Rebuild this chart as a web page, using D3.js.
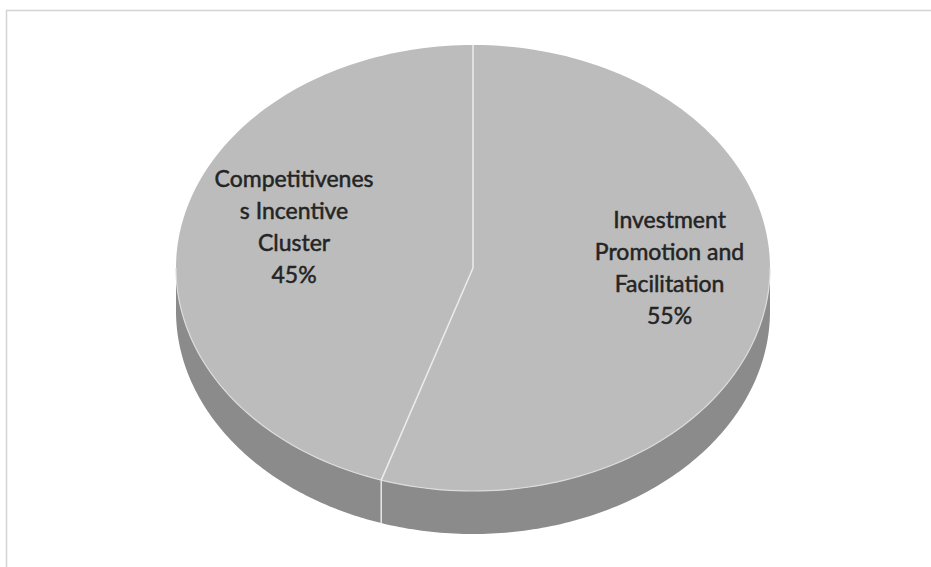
<!DOCTYPE html>
<html>
<head>
<meta charset="utf-8">
<script src="https://cdn.jsdelivr.net/npm/d3@7"></script>
<style>
  html, body { margin: 0; padding: 0; background: #fff; }
  svg { display: block; }
</style>
</head>
<body>
<svg id="chart" width="931" height="567"></svg>
<script>
// Budget split between the two programme components
const categories = ["Investment Promotion and Facilitation", "Competitiveness Incentive Cluster"];
const values = [55, 45];
// Wrapped label text, one array of lines per category
const labelLines = [
  ["Investment", "Promotion and", "Facilitation"],
  ["Competitivenes", "s Incentive", "Cluster"]
];

const W = 931, H = 567;
const svg = d3.select("#chart");

// Chart frame (left and top edges)
svg.append("path")
  .attr("d", `M6.5,${H} V10.5 H${W}`)
  .attr("fill", "none")
  .attr("stroke", "#d4d4d4")
  .attr("stroke-width", 1.5);

// Tilted pie geometry
const cx = 473, cy = 268, rx = 297, ry = 223, depth = 43;
const topFill = "#bcbcbc", sideFill = "#8b8b8b";

const pie = d3.pie().sort(null).value(d => d.value);
const arcs = pie(categories.map((c, i) => ({ name: c, value: values[i], lines: labelLines[i] })));

// Point on the projected ellipse for a pie angle (clockwise from 12 o'clock)
const pt = (a, r = 1, dy = 0) => [cx + r * rx * Math.sin(a), cy - r * ry * Math.cos(a) + dy];
const line = d3.line();
const sample = (a0, a1, n = 120) => d3.range(n + 1).map(i => a0 + (a1 - a0) * i / n);

// Side wall: only the front half (angles between 90° and 270°) is visible
const sideG = svg.append("g");
arcs.forEach(d => {
  const a0 = Math.max(d.startAngle, Math.PI / 2);
  const a1 = Math.min(d.endAngle, 3 * Math.PI / 2);
  if (a1 <= a0) return;
  const angs = sample(a0, a1);
  const pts = angs.map(a => pt(a)).concat(angs.slice().reverse().map(a => pt(a, 1, depth)));
  sideG.append("path")
    .attr("d", line(pts) + "Z")
    .attr("fill", sideFill);
});
// Slice boundaries that fall on the front wall
arcs.forEach(d => {
  const a = d.endAngle;
  if (a > Math.PI / 2 && a < 3 * Math.PI / 2) {
    sideG.append("path")
      .attr("d", line([pt(a), pt(a, 1, depth)]))
      .attr("stroke", "#e6e6e6")
      .attr("stroke-width", 1.5);
  }
});

// Top face slices
const faceG = svg.append("g");
arcs.forEach(d => {
  const pts = [[cx, cy]].concat(sample(d.startAngle, d.endAngle).map(a => pt(a)));
  faceG.append("path")
    .attr("d", line(pts) + "Z")
    .attr("fill", topFill);
});

// Light rim where the top face meets the wall
faceG.append("path")
  .attr("d", line(sample(Math.PI / 2, 3 * Math.PI / 2).map(a => pt(a))))
  .attr("fill", "none")
  .attr("stroke", "#dcdcdc")
  .attr("stroke-width", 1.2);

// Radial slice separators
arcs.forEach(d => {
  faceG.append("path")
    .attr("d", line([[cx, cy], pt(d.startAngle)]))
    .attr("stroke", "#ececec")
    .attr("stroke-width", 1.5);
});

// Data labels: category name and share
const total = d3.sum(values);
const labelPos = [{ r: 0.67, dy: -21 }, { r: 0.61, dy: -18 }];
const fmt = d3.format(".0%");
const lineH = 32;
arcs.forEach((d, i) => {
  const mid = (d.startAngle + d.endAngle) / 2;
  const [x, y] = pt(mid, labelPos[i].r, labelPos[i].dy);
  const lines = d.data.lines.concat([fmt(d.value / total)]);
  const t = svg.append("text")
    .attr("x", x)
    .attr("y", y - (lines.length - 1) * lineH / 2)
    .attr("text-anchor", "middle")
    .attr("dominant-baseline", "middle")
    .attr("font-family", "Lato, 'Open Sans', sans-serif")
    .attr("font-size", 23)
    .attr("fill", "#242424")
    .attr("stroke", "#242424")
    .attr("stroke-width", 0.5);
  lines.forEach((s, k) => {
    t.append("tspan")
      .attr("x", x)
      .attr("dy", k === 0 ? 0 : lineH)
      .text(s);
  });
});
</script>
</body>
</html>
